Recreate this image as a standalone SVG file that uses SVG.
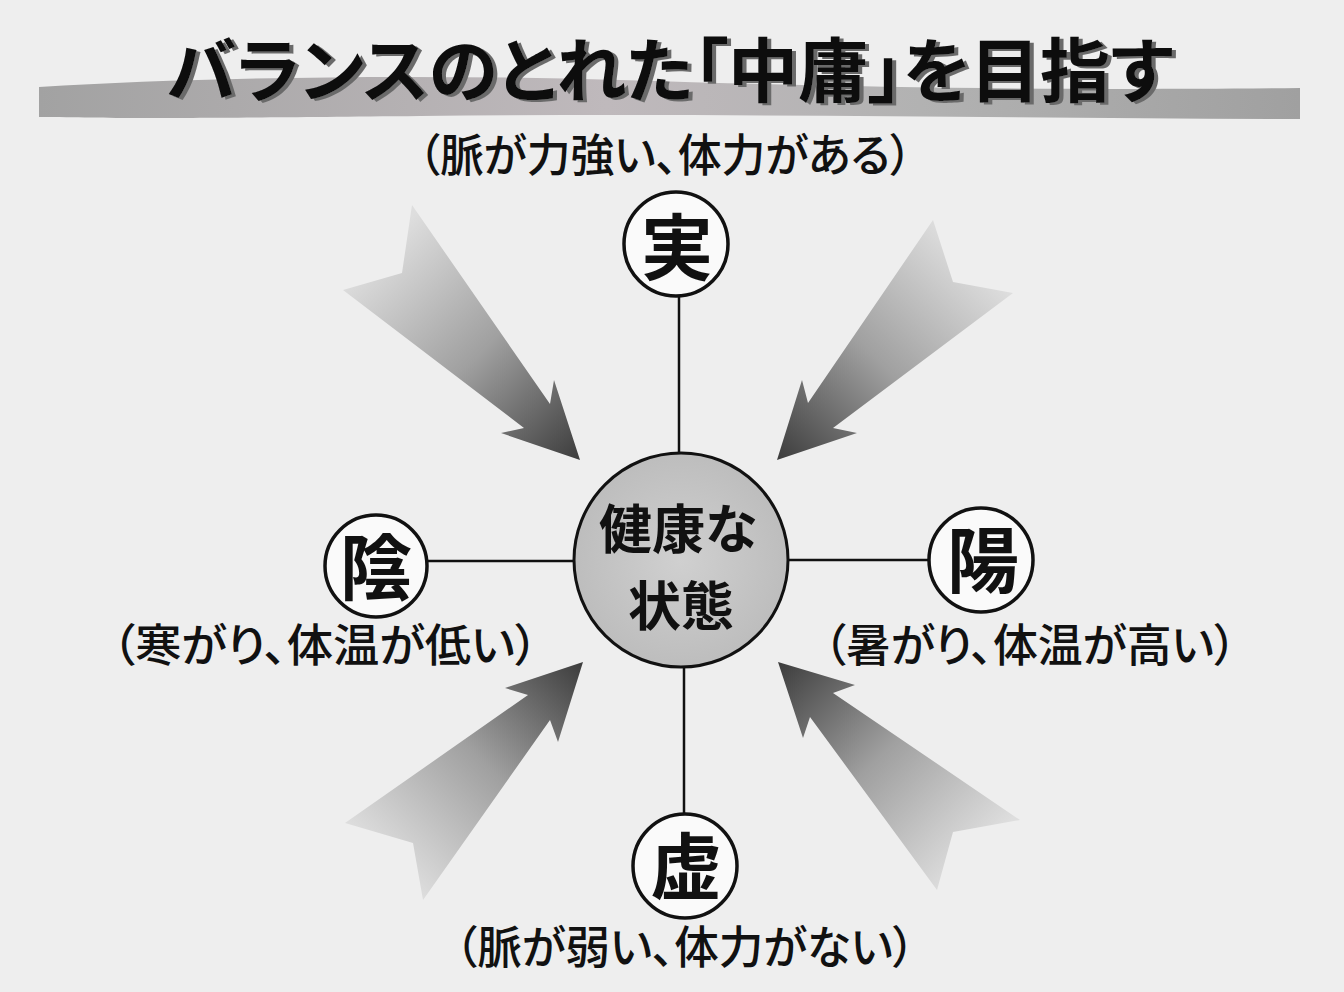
<svg xmlns="http://www.w3.org/2000/svg" width="1344" height="992" viewBox="0 0 1344 992">
  <defs>
    <style>
      text { font-feature-settings: "palt"; }
      .lbl { font-family: "Noto Sans CJK JP", "Noto Sans CJK SC", sans-serif; font-weight: 500; font-size: 45px; fill: #111; text-anchor: middle; }
      .big { font-family: "Noto Sans CJK JP", "Noto Sans CJK SC", sans-serif; font-weight: 700; font-size: 72px; fill: #111; text-anchor: middle; }
      .ctr { font-family: "Noto Sans CJK JP", "Noto Sans CJK SC", sans-serif; font-weight: 700; font-size: 53px; fill: #111; text-anchor: middle; }
      .node { fill: #fafafa; stroke: #111; stroke-width: 3.5; }
      .conn { stroke: #111; stroke-width: 2.5; fill: none; }
    </style>
    <linearGradient id="band" x1="0" y1="0" x2="1" y2="0">
      <stop offset="0" stop-color="#a2a2a2"/>
      <stop offset="0.45" stop-color="#bfb9bc"/>
      <stop offset="0.7" stop-color="#b2b2b2"/>
      <stop offset="1" stop-color="#a0a0a0"/>
    </linearGradient>
    <linearGradient id="gTL" gradientUnits="userSpaceOnUse" x1="378" y1="248" x2="580" y2="460">
      <stop offset="0" stop-color="#dedede"/>
      <stop offset="0.5" stop-color="#a0a0a0"/>
      <stop offset="1" stop-color="#3c3c3c"/>
    </linearGradient>
    <linearGradient id="gTR" gradientUnits="userSpaceOnUse" x1="973" y1="256" x2="777" y2="460">
      <stop offset="0" stop-color="#dedede"/>
      <stop offset="0.5" stop-color="#a0a0a0"/>
      <stop offset="1" stop-color="#3c3c3c"/>
    </linearGradient>
    <linearGradient id="gBL" gradientUnits="userSpaceOnUse" x1="384" y1="862" x2="583" y2="662">
      <stop offset="0" stop-color="#dedede"/>
      <stop offset="0.5" stop-color="#a0a0a0"/>
      <stop offset="1" stop-color="#3c3c3c"/>
    </linearGradient>
    <linearGradient id="gBR" gradientUnits="userSpaceOnUse" x1="978" y1="855" x2="778" y2="662">
      <stop offset="0" stop-color="#dedede"/>
      <stop offset="0.5" stop-color="#a0a0a0"/>
      <stop offset="1" stop-color="#3c3c3c"/>
    </linearGradient>
    <radialGradient id="ctrFill" cx="0.5" cy="0.5" r="0.5">
      <stop offset="0" stop-color="#d0d0d0"/>
      <stop offset="1" stop-color="#bdbdbd"/>
    </radialGradient>
    <filter id="shadow" x="-5%" y="-20%" width="110%" height="140%">
      <feDropShadow dx="4" dy="2" stdDeviation="0.6" flood-color="#6a6a6a" flood-opacity="1"/>
    </filter>
  </defs>

  <rect x="0" y="0" width="1344" height="992" fill="#eeeeee"/>

  <g id="title">
    <path d="M39,87 C200,77 420,74 620,80 S1000,91 1300,88 L1300,119 C1000,118 720,113 420,116 S120,118 39,117 Z" fill="url(#band)"/>
    <text x="670" y="97" font-family="'Noto Sans CJK JP', 'Noto Sans CJK SC', sans-serif" font-weight="700" font-size="70" fill="#0a0a0a" text-anchor="middle" textLength="1006" lengthAdjust="spacingAndGlyphs" filter="url(#shadow)">バランスのとれた「中庸」を目指す</text>
  </g>

  <g id="arrows">
    <polygon points="412,205 550,404 554,380 580,460 501,433 524,428 343,290 402,273" fill="url(#gTL)"/>
    <polygon points="933,220 808,403 802,380 777,460 857,433 833,428 1013,293 953,282" fill="url(#gTR)"/>
    <polygon points="583,662 505,688 528,695 345,823 413,843 423,900 550,720 558,742" fill="url(#gBL)"/>
    <polygon points="778,662 855,685 833,693 1020,820 953,832 937,890 810,717 803,738" fill="url(#gBR)"/>
  </g>

  <g id="connectors">
    <line class="conn" x1="679" y1="296" x2="679" y2="454"/>
    <line class="conn" x1="684" y1="667" x2="684" y2="815"/>
    <line class="conn" x1="425" y1="561" x2="574" y2="561"/>
    <line class="conn" x1="788" y1="560" x2="929" y2="560"/>
  </g>

  <g id="node-center">
    <circle cx="681" cy="560" r="107" fill="url(#ctrFill)" stroke="#111" stroke-width="3"/>
    <text class="ctr"><tspan x="678" y="549">健康な</tspan><tspan x="681" y="626">状態</tspan></text>
  </g>

  <g id="node-jitsu">
    <circle class="node" cx="676" cy="244" r="52"/>
    <text class="big" x="677" y="274">実</text>
    <text class="lbl" x="665" y="172" textLength="494" lengthAdjust="spacingAndGlyphs">（脈が力強い、体力がある）</text>
  </g>

  <g id="node-in">
    <circle class="node" cx="376" cy="566" r="51"/>
    <text class="big" x="376" y="594">陰</text>
    <text class="lbl" x="325" y="662" textLength="426" lengthAdjust="spacingAndGlyphs">（寒がり、体温が低い）</text>
  </g>

  <g id="node-yo">
    <circle class="node" cx="981" cy="560" r="52"/>
    <text class="big" x="983" y="587">陽</text>
    <text class="lbl" x="1030" y="662" textLength="413" lengthAdjust="spacingAndGlyphs">（暑がり、体温が高い）</text>
  </g>

  <g id="node-kyo">
    <circle class="node" cx="685" cy="866" r="52"/>
    <text class="big" x="686" y="893">虚</text>
    <text class="lbl" x="685" y="964" textLength="460" lengthAdjust="spacingAndGlyphs">（脈が弱い、体力がない）</text>
  </g>
</svg>
